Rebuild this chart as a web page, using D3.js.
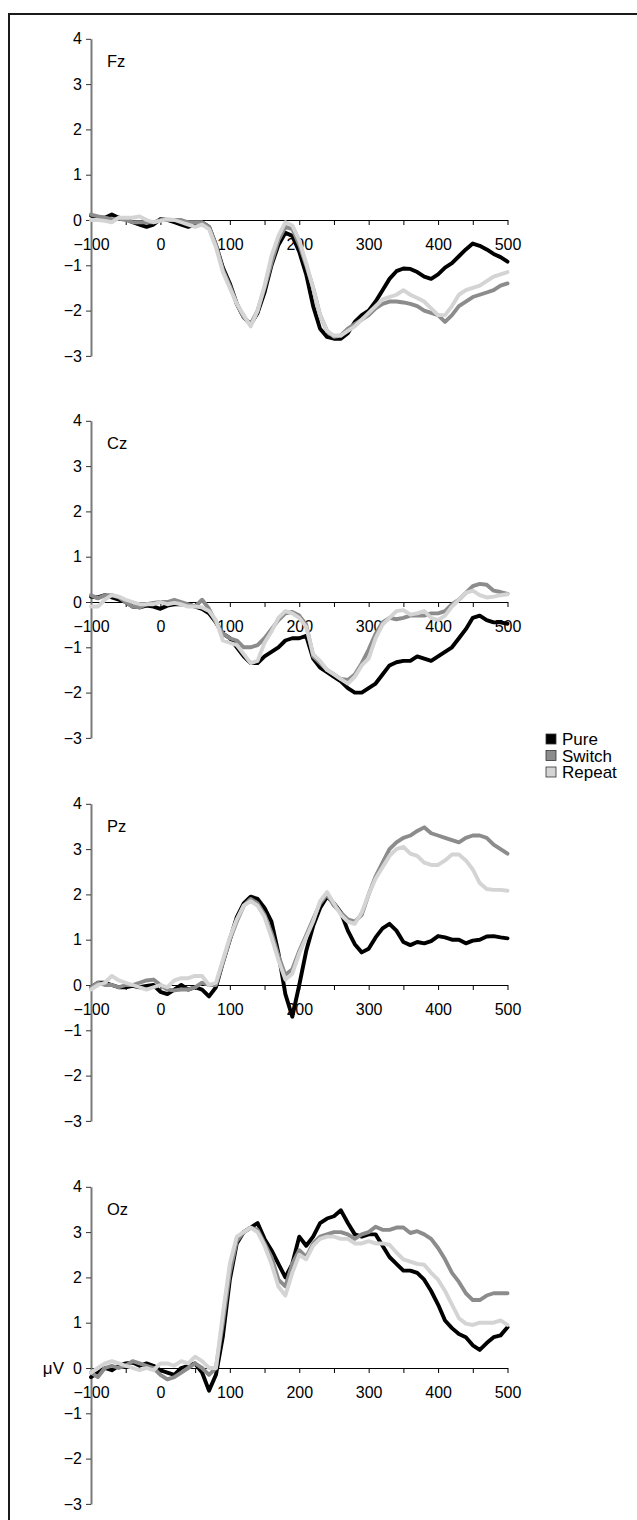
<!DOCTYPE html>
<html>
<head>
<meta charset="utf-8">
<script src="https://cdn.jsdelivr.net/npm/d3@7"></script>
<style>
  html, body { margin: 0; padding: 0; background: #fff; }
  svg { display: block; }
  text { font-family: "Liberation Sans", Arial, sans-serif; fill: #000; }
</style>
</head>
<body>
<svg id="chart" width="637" height="1520"></svg>
<script>
// ---- data ----
const times = [-100,-90,-80,-70,-60,-50,-40,-30,-20,-10,
  0,10,20,30,40,50,60,70,80,90,
  100,110,120,130,140,150,160,170,180,190,
  200,210,220,230,240,250,260,270,280,290,
  300,310,320,330,340,350,360,370,380,390,
  400,410,420,430,440,450,460,470,480,490,500];

const seriesNames = ["Pure", "Switch", "Repeat"];
const channels = ["Fz", "Cz", "Pz", "Oz"];
const yTicks = [-3, -2, -1, 0, 1, 2, 3, 4];
const xTicks = [-100,-50,0,50,100,150,200,250,300,350,400,450,500];
const xLabels = [-100, 0, 100, 200, 300, 400, 500];

const fzPure = [0.1,0.05,0.05,0.12,0.05,0.02,-0.05,-0.1,-0.15,-0.1,
  0.02,0.0,-0.05,-0.1,-0.15,-0.1,-0.05,-0.15,-0.55,-1.05,
  -1.4,-1.85,-2.15,-2.3,-2.05,-1.6,-1.0,-0.55,-0.28,-0.35,
  -0.7,-1.2,-1.9,-2.4,-2.58,-2.62,-2.62,-2.5,-2.25,-2.1,
  -2.0,-1.8,-1.55,-1.3,-1.13,-1.07,-1.08,-1.15,-1.25,-1.3,
  -1.2,-1.05,-0.95,-0.8,-0.65,-0.52,-0.57,-0.65,-0.75,-0.82,-0.92];
const fzSwitch = [0.12,0.08,0.05,0.02,0.03,0.0,-0.05,-0.05,-0.05,-0.05,
  0.0,0.0,0.0,0.0,-0.05,-0.05,-0.05,-0.15,-0.55,-1.1,
  -1.45,-1.85,-2.15,-2.3,-2.0,-1.5,-0.95,-0.45,-0.15,-0.2,
  -0.55,-1.0,-1.5,-2.1,-2.45,-2.58,-2.55,-2.4,-2.3,-2.2,
  -2.1,-1.95,-1.85,-1.8,-1.8,-1.82,-1.85,-1.9,-2.0,-2.05,
  -2.1,-2.25,-2.1,-1.9,-1.8,-1.7,-1.65,-1.6,-1.55,-1.45,-1.4];
const fzRepeat = [0.0,0.0,-0.02,-0.05,0.05,0.05,0.05,0.08,0.0,-0.05,
  -0.02,0.02,0.0,-0.05,-0.1,-0.15,-0.1,-0.2,-0.6,-1.15,
  -1.5,-1.85,-2.1,-2.35,-2.0,-1.45,-0.8,-0.35,-0.05,-0.12,
  -0.45,-0.95,-1.5,-2.1,-2.45,-2.55,-2.55,-2.45,-2.35,-2.2,
  -2.05,-1.9,-1.75,-1.7,-1.65,-1.55,-1.65,-1.72,-1.8,-1.95,
  -2.1,-2.1,-1.9,-1.65,-1.55,-1.5,-1.45,-1.35,-1.25,-1.2,-1.15];

const czPure = [0.12,0.1,0.15,0.1,0.05,0.0,-0.1,-0.12,-0.08,-0.1,
  -0.15,-0.08,-0.05,-0.05,-0.05,-0.1,-0.15,-0.25,-0.45,-0.7,
  -0.8,-1.0,-1.2,-1.35,-1.35,-1.2,-1.1,-1.0,-0.85,-0.8,
  -0.8,-0.75,-1.25,-1.45,-1.55,-1.65,-1.75,-1.9,-2.0,-2.0,
  -1.9,-1.8,-1.6,-1.4,-1.33,-1.3,-1.3,-1.2,-1.25,-1.3,
  -1.2,-1.1,-1.0,-0.8,-0.6,-0.35,-0.3,-0.4,-0.45,-0.45,-0.48];
const czSwitch = [0.15,0.08,0.15,0.15,0.1,0.0,-0.1,-0.12,-0.05,-0.02,
  0.0,0.0,0.05,0.0,-0.05,-0.1,0.05,-0.15,-0.45,-0.7,
  -0.8,-0.85,-1.0,-1.0,-0.95,-0.8,-0.6,-0.4,-0.25,-0.22,
  -0.3,-0.5,-1.2,-1.35,-1.5,-1.6,-1.7,-1.72,-1.6,-1.35,
  -1.05,-0.7,-0.45,-0.35,-0.38,-0.35,-0.3,-0.3,-0.3,-0.25,
  -0.25,-0.2,-0.05,0.05,0.2,0.35,0.4,0.38,0.25,0.22,0.18];
const czRepeat = [-0.1,-0.1,0.05,0.15,0.12,0.05,0.0,-0.05,-0.05,-0.05,
  0.0,-0.05,-0.02,-0.05,-0.1,-0.1,-0.12,-0.2,-0.4,-0.85,
  -0.9,-0.95,-1.15,-1.35,-1.3,-0.9,-0.65,-0.35,-0.2,-0.25,
  -0.35,-0.55,-1.15,-1.3,-1.5,-1.6,-1.7,-1.8,-1.65,-1.4,
  -1.25,-0.8,-0.5,-0.35,-0.2,-0.18,-0.28,-0.25,-0.2,-0.35,
  -0.4,-0.3,-0.1,0.05,0.2,0.25,0.15,0.1,0.12,0.15,0.17];

const pzPure = [-0.05,0.05,0.05,0.0,-0.05,-0.05,-0.02,-0.05,-0.02,0.0,
  -0.15,-0.2,-0.1,0.0,-0.1,-0.05,-0.1,-0.25,-0.05,0.5,
  1.0,1.5,1.8,1.95,1.9,1.7,1.4,0.7,-0.2,-0.7,
  0.0,0.75,1.3,1.7,1.95,1.8,1.6,1.2,0.9,0.72,
  0.8,1.05,1.25,1.35,1.2,0.95,0.88,0.95,0.92,0.97,
  1.08,1.05,1.0,1.0,0.92,0.98,1.0,1.07,1.08,1.05,1.03];
const pzSwitch = [-0.05,0.05,0.0,0.0,-0.05,0.0,0.0,0.05,0.1,0.12,
  0.0,-0.1,-0.12,-0.1,-0.1,-0.05,0.05,0.0,0.0,0.5,
  1.0,1.4,1.75,1.9,1.8,1.55,1.15,0.65,0.22,0.35,
  0.75,1.1,1.45,1.8,2.0,1.75,1.6,1.45,1.4,1.55,
  2.0,2.4,2.7,3.0,3.15,3.25,3.3,3.4,3.48,3.35,
  3.3,3.25,3.2,3.15,3.25,3.3,3.3,3.25,3.1,3.0,2.9];
const pzRepeat = [-0.1,0.0,0.05,0.2,0.1,0.05,0.0,-0.05,-0.1,-0.05,
  0.0,-0.05,0.1,0.15,0.15,0.2,0.2,0.0,0.05,0.55,
  1.05,1.45,1.75,1.85,1.75,1.5,1.05,0.55,0.12,0.25,
  0.7,1.05,1.4,1.85,2.05,1.8,1.55,1.4,1.35,1.6,
  2.0,2.35,2.6,2.85,3.0,3.05,2.9,2.85,2.7,2.65,
  2.65,2.75,2.88,2.88,2.75,2.55,2.25,2.12,2.1,2.1,2.08];

const ozPure = [-0.2,-0.1,0.0,-0.05,0.05,0.1,0.12,0.05,0.1,0.05,
  -0.05,-0.1,-0.15,0.0,0.05,0.1,-0.1,-0.5,-0.15,0.7,
  1.95,2.75,3.0,3.1,3.2,2.85,2.6,2.3,2.0,2.3,
  2.9,2.7,2.9,3.2,3.3,3.35,3.48,3.2,2.95,2.9,
  2.95,2.95,2.7,2.45,2.3,2.15,2.15,2.1,1.95,1.7,
  1.4,1.05,0.88,0.75,0.68,0.5,0.4,0.55,0.68,0.72,0.9];
const ozSwitch = [-0.1,-0.2,0.0,0.05,0.0,0.05,0.15,0.1,0.05,0.0,
  -0.15,-0.25,-0.2,-0.1,0.0,0.1,0.0,-0.15,0.0,1.0,
  2.1,2.8,3.0,3.1,3.05,2.75,2.45,1.95,1.8,2.3,
  2.6,2.45,2.75,2.9,2.95,3.0,3.0,2.95,2.85,2.95,
  3.0,3.12,3.05,3.05,3.1,3.1,2.98,3.02,2.95,2.85,
  2.65,2.4,2.1,1.9,1.65,1.5,1.5,1.6,1.65,1.65,1.65];
const ozRepeat = [-0.1,0.0,0.1,0.15,0.1,0.05,0.0,-0.05,0.0,-0.05,
  0.1,0.1,0.05,0.15,0.1,0.25,0.15,0.0,0.0,1.2,
  2.3,2.9,3.0,3.1,3.0,2.7,2.3,1.8,1.6,2.1,
  2.5,2.4,2.7,2.85,2.9,2.9,2.85,2.85,2.75,2.75,
  2.8,2.75,2.75,2.72,2.55,2.4,2.35,2.3,2.28,2.1,
  1.95,1.7,1.4,1.1,0.98,0.95,1.0,1.0,1.0,1.05,0.95];

const panelData = [
  [fzPure, fzSwitch, fzRepeat],
  [czPure, czSwitch, czRepeat],
  [pzPure, pzSwitch, pzRepeat],
  [ozPure, ozSwitch, ozRepeat]
];

// ---- layout ----
const colors = ["#000000", "#8c8c8c", "#d4d4d4"];
const zeroY = [220, 602, 985, 1368];
const unit = 45.3;
const svg = d3.select("#chart");
const fmt = v => (v < 0 ? "\u2212" + Math.abs(v) : String(v));
const fontFam = '"Liberation Sans", Arial, sans-serif';

// frame (top and left edges visible)
svg.append("path")
  .attr("d", "M9,1520 V14 H640")
  .attr("fill", "none").attr("stroke", "#1a1a1a").attr("stroke-width", 2);

const x = d3.scaleLinear().domain([-100, 500]).range([91, 507.5]);

channels.forEach((ch, i) => {
  const z = zeroY[i];
  const y = d3.scaleLinear().domain([-3, 4]).range([z + 3 * unit, z - 4 * unit]);
  const g = svg.append("g");

  // x axis at y = 0
  const xa = g.append("g").attr("transform", `translate(0,${y(0)})`)
    .call(d3.axisBottom(x).tickValues(xTicks).tickSize(5).tickSizeOuter(0).tickPadding(14)
      .tickFormat(d => xLabels.includes(d) ? fmt(d) : ""));
  xa.select(".domain").attr("stroke", "#000").attr("stroke-width", 1.2);
  xa.selectAll(".tick line").attr("stroke", "#000").attr("stroke-width", 1);
  xa.selectAll(".tick text").style("font-size", "16px")
    .style("font-family", fontFam).attr("fill", "#000");

  // y axis
  const ya = g.append("g").attr("transform", `translate(${x(-100)},0)`)
    .call(d3.axisLeft(y).tickValues(yTicks).tickSize(5).tickSizeOuter(0).tickPadding(4).tickFormat(fmt));
  ya.select(".domain").attr("stroke", "#7a7a7a").attr("stroke-width", 2);
  ya.selectAll(".tick line").attr("stroke", "#333").attr("stroke-width", 1);
  ya.selectAll(".tick text").style("font-size", "16px")
    .style("font-family", fontFam).attr("fill", "#000");

  // channel label
  g.append("text").attr("x", 107).attr("y", y(3.5) + 6)
    .style("font-size", "16.5px").text(ch);

  // lines
  const line = d3.line().x((d, k) => x(times[k])).y(d => y(d));
  panelData[i].forEach((vals, s) => {
    g.append("path").datum(vals)
      .attr("d", line)
      .attr("fill", "none")
      .attr("stroke", colors[s])
      .attr("stroke-width", 3.9)
      .attr("stroke-linejoin", "round")
      .attr("stroke-linecap", "round");
  });

  if (ch === "Oz") {
    g.append("text").attr("x", 64).attr("y", y(0) + 6)
      .attr("text-anchor", "end").style("font-size", "17px").text("\u03bcV");
  }
});

// legend
const legend = svg.append("g").attr("transform", "translate(546,739)");
seriesNames.forEach((name, s) => {
  const row = legend.append("g").attr("transform", `translate(0,${s * 16.5})`);
  row.append("rect").attr("x", 0).attr("y", -5).attr("width", 10).attr("height", 10)
    .attr("fill", colors[s]).attr("stroke", "#333").attr("stroke-width", 0.8);
  row.append("text").attr("x", 16).attr("y", 6).style("font-size", "17px").text(name);
});
</script>
</body>
</html>
